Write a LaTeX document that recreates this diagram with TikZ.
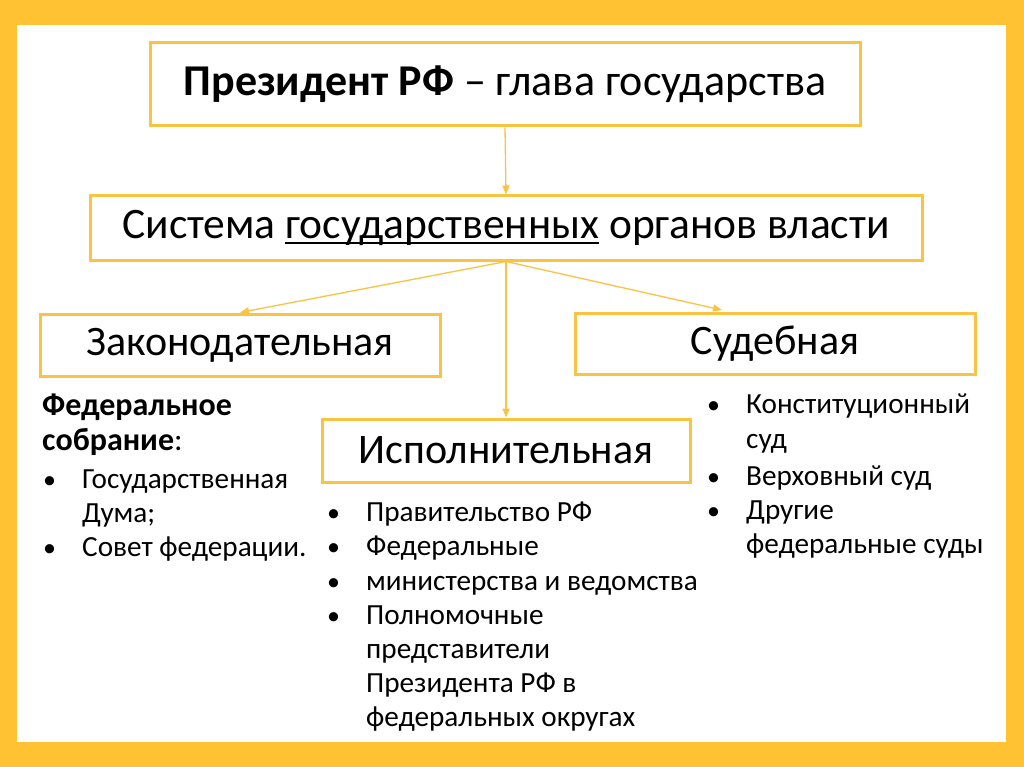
\documentclass[tikz,border=0pt]{standalone}
\usepackage{fontspec}
\setmainfont{Carlito}
\usetikzlibrary{positioning,arrows.meta}
\definecolor{frameyel}{HTML}{FFC232}
\definecolor{boxyel}{HTML}{FAC341}
\newcommand{\bitem}{\makebox[40pt][l]{\hspace{1pt}{\fontsize{26}{26}\selectfont\textbullet}}}
\newcommand{\bcont}{\hspace*{40pt}}
\newsavebox{\ulbox}
\newcommand{\thickul}[1]{\sbox{\ulbox}{#1}\rlap{\rule[-5pt]{\wd\ulbox}{1.8pt}}\usebox{\ulbox}}
\tikzset{
  pw box/.style={draw=boxyel, line width=3pt, fill=white, inner sep=0pt, align=center},
  pw head/.style={pw box, font=\fontsize{42}{48}\selectfont},
  pw arr/.style={-{Triangle[length=9pt, width=7pt]}, line width=1.3pt, boxyel},
  pw list/.style={align=left, inner sep=0pt, anchor=north west, font=\fontsize{29.2}{34.2}\selectfont},
}

\begin{document}
\begin{tikzpicture}[x=1pt, y=-1pt]
  % frame
  \fill[frameyel] (0,0) rectangle (1024,767);
  \fill[white] (17,25) rectangle (1006,742);
  % boxes
  \node[pw box, minimum width=710pt, minimum height=83pt, font=\fontsize{44}{50}\selectfont] (pres) at (505,84.5)
     {\textbf{Президент РФ} – глава государства};
  \node[pw head, minimum width=832pt, minimum height=64pt, font=\fontsize{43.5}{50}\selectfont] (sys) at (506,228)
     {Система \thickul{государственных} органов власти};
  \node[pw head, minimum width=400pt, minimum height=62pt] (zak) at (240,345) {Законодательная};
  \node[pw head, minimum width=400pt, minimum height=61pt] (sud) at (775,343.5) {Судебная};
  \node[pw head, minimum width=368pt, minimum height=63pt] (isp) at (506,450.5) {Исполнительная};
  \coordinate (sudin) at (722,310);
  % arrows
  \draw[pw arr] (pres.south) -- (sys.north);
  \draw[pw arr] (sys.south) -- (zak.north);
  \draw[pw arr] (sys.south) -- (sudin);
  \draw[pw arr] (sys.south) -- (isp.north);
  % lists
  \node[pw list] (zaklist) at (42,394)
     {{\fontsize{32}{34.2}\selectfont\textbf{Федеральное}}\\
      {\fontsize{32}{34.2}\selectfont\textbf{собрание}:}\\[4pt]
      \bitem Государственная\\
      \bcont Дума;\\
      \bitem Совет федерации.};
  \node[pw list] (isplist) at (326,502)
     {\bitem Правительство РФ\\
      \bitem Федеральные\\
      \bitem министерства и ведомства\\
      \bitem Полномочные\\
      \bcont представители\\
      \bcont Президента РФ в\\
      \bcont федеральных округах};
  \node[pw list] (sudlist) at (706,394)
     {\bitem Конституционный\\
      \bcont суд\\[3pt]
      \bitem Верховный суд\\
      \bitem Другие\\
      \bcont федеральные суды};
\end{tikzpicture}
\end{document}
